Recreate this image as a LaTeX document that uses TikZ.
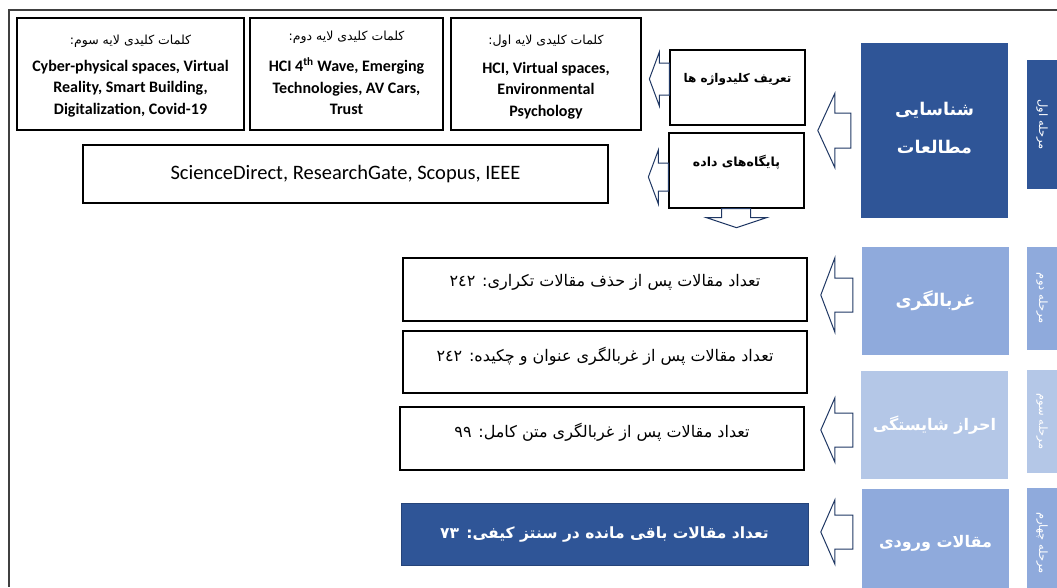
\documentclass[tikz,border=0pt]{standalone}
\usepackage{fontspec}
\setmainfont{Carlito}
\newfontfamily\fafont[Script=Arabic]{DejaVu Sans}
\TeXXeTstate=1
\usetikzlibrary{calc}

\definecolor{stagedark}{HTML}{2F5597}
\definecolor{stagemid}{HTML}{8FAADC}
\definecolor{stagelight}{HTML}{B4C7E7}
\definecolor{arrownavy}{HTML}{203864}
\definecolor{framegray}{HTML}{404040}

% persian text, right to left
\newcommand{\fa}[1]{{\fafont\beginR #1\endR}}
% hollow block arrow pointing left: tip, length, head length, head half width, shaft half width
\newcommand{\blockleft}[5]{%
  \draw[blockarrow] #1 -- ++(#3,-#4) -- ++(0,#4-#5) -- ++(#2-#3,0)
    -- ++(0,2*#5) -- ++(#3-#2,0) -- ++(0,#4-#5) -- cycle;}

\tikzset{
  kwbox/.style={draw=black, line width=1.3pt, fill=white, inner sep=0pt},
  stagebox/.style={fill=#1, inner sep=0pt, text=white},
  blockarrow/.style={draw=arrownavy, line width=1pt, fill=white, line join=miter},
  kwhead/.style={font=\fontsize{12.5}{14}\selectfont},
  kwbody/.style={font=\bfseries\fontsize{16}{21.5}\selectfont, align=center},
  counttext/.style={font=\fontsize{16}{18}\selectfont},
  steplabel/.style={font=\fontsize{11.5}{13}\selectfont, text=white, rotate=-90},
}

\begin{document}
\begin{tikzpicture}[x=1pt,y=-1pt]
    \useasboundingbox (0,0) rectangle (1057,587);
    % outer frame
    \draw[framegray, line width=1.6pt] (1057,10) -- (9,10) -- (9,587);

    % keyword boxes, three layers
    \node[kwbox, minimum width=227, minimum height=112] (layer3) at (130.5,74) {};
    \node[kwbox, minimum width=193, minimum height=112] (layer2) at (346.5,74) {};
    \node[kwbox, minimum width=190, minimum height=112] (layer1) at (546,74) {};
    \node[kwhead] (layer3h) at ($(layer3.north)+(0,24)$) {\fa{کلمات کلیدی لایه سوم:}};
    \node[kwhead] (layer2h) at ($(layer2.north)+(0,20)$) {\fa{کلمات کلیدی لایه دوم:}};
    \node[kwhead] (layer1h) at ($(layer1.north)+(0,24)$) {\fa{کلمات کلیدی لایه اول:}};
    \node[kwbody] (layer3b) at ($(layer3.north)+(0,71)$) {Cyber-physical spaces, Virtual\\Reality, Smart Building,\\Digitalization, Covid-19};
    \node[kwbody] (layer2b) at ($(layer2.north)+(0,69)$) {HCI 4\textsuperscript{th} Wave, Emerging\\Technologies, AV Cars,\\Trust};
    \node[kwbody] (layer1b) at ($(layer1.north)+(0,73)$) {HCI, Virtual spaces,\\Environmental\\Psychology};

    % databases
    \node[kwbox, minimum width=525, minimum height=58, font=\fontsize{20.5}{22}\selectfont] (dbs) at (345.5,174) {ScienceDirect, ResearchGate, Scopus, IEEE};

    % sub steps of stage one
    \node[kwbox, minimum width=135, minimum height=75] (keydef) at (737.5,87.5) {};
    \node[kwbox, minimum width=135, minimum height=75] (data) at (736.5,170.5) {};
    \node[font=\bfseries\fontsize{12}{14}\selectfont] at ($(keydef.north)+(0,30)$) {\fa{تعریف کلیدواژه ها}};
    \node[font=\bfseries\fontsize{12.5}{14}\selectfont] at ($(data.north)+(0,30)$) {\fa{پایگاه‌های داده}};

    % stages
    \node[stagebox=stagedark, minimum width=147, minimum height=175] (study) at (934.5,130.5) {};
    \node[text=white, align=center, font=\bfseries\fontsize{17.5}{38}\selectfont] (studyt)
          at ($(study.center)+(0,-2)$) {\fa{شناسایی}\\\fa{مطالعات}};
    \node[stagebox=stagemid, minimum width=147, minimum height=108,
          font=\bfseries\fontsize{17.5}{20}\selectfont] (screen) at (935.5,301) {\fa{غربالگری}};
    \node[stagebox=stagelight, minimum width=147, minimum height=108,
          font=\bfseries\fontsize{16}{20}\selectfont] (elig) at (934.5,425) {\fa{احراز شایستگی}};
    \node[stagebox=stagemid, minimum width=147, minimum height=108,
          font=\bfseries\fontsize{16}{20}\selectfont] (input) at (935.5,543) {\fa{مقالات ورودی}};

    % stage labels on the right edge
    \node[stagebox=stagedark, minimum width=30, minimum height=129] (st1) at (1042,124.5) {};
    \node[stagebox=stagemid, minimum width=30, minimum height=103] (st2) at (1042,298.5) {};
    \node[stagebox=stagelight, minimum width=30, minimum height=103] (st3) at (1042,421.5) {};
    \node[stagebox=stagemid, minimum width=30, minimum height=110] (st4) at (1042,543) {};
    \node[steplabel] at (st1) {\fa{مرحله اول}};
    \node[steplabel] at (st2) {\fa{مرحله دوم}};
    \node[steplabel] at (st3) {\fa{مرحله سوم}};
    \node[steplabel] at (st4) {\fa{مرحله چهارم}};

    % counts after each stage
    \node[kwbox, minimum width=404, minimum height=63] (dup) at (605,289.5) {};
    \node[kwbox, minimum width=404, minimum height=62] (absscr) at (605,362) {};
    \node[kwbox, minimum width=404, minimum height=63] (fulltxt) at (602,438.5) {};
    \node[stagebox=stagedark, draw=stagedark!80!black, minimum width=407, minimum height=62,
          font=\bfseries\fontsize{15.5}{20}\selectfont] (final) at (604.5,534) {\fa{تعداد مقالات باقی مانده در سنتز کیفی: ٧٣}};
    \node[counttext] at ($(dup.north)+(0,25)$) {\fa{تعداد مقالات پس از حذف مقالات تکراری: ٢٤٢}};
    \node[counttext] at ($(absscr.north)+(0,26)$) {\fa{تعداد مقالات پس از غربالگری عنوان و چکیده: ٢٤٢}};
    \node[counttext] at ($(fulltxt.north)+(0,26)$) {\fa{تعداد مقالات پس از غربالگری متن کامل: ٩٩}};

    % block arrows
    \blockleft{($(study.west)+(-43,0)$)}{33}{17}{37}{17.5}
    \blockleft{($(keydef.west)+(-20,-8.5)$)}{20}{10}{27}{16}
    \blockleft{($(data.west)+(-20,6.5)$)}{20}{10}{27}{14}
    \foreach \tgt/\dx/\dy/\hw in {screen/-41/-6/37, elig/-40/5/32, input/-41/-11/32} {
        \blockleft{($(\tgt.west)+(\dx,\dy)$)}{32}{14}{\hw}{17}
    }
    \draw[blockarrow] ($(data.south)+(0,19)$) -- ++(-30,-10) -- ++(15,0) -- ++(0,-9)
        -- ++(29,0) -- ++(0,9) -- ++(16,0) -- cycle;
\end{tikzpicture}
\end{document}
